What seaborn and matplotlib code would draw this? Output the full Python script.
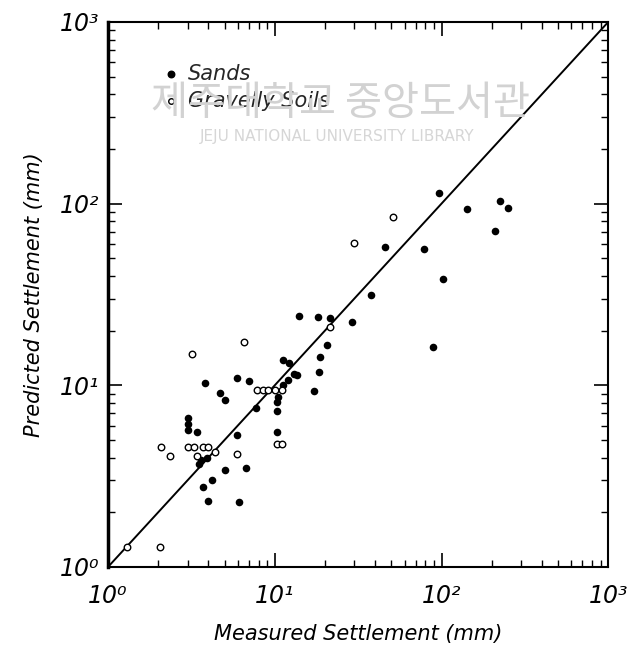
import pandas as pd
import matplotlib.pyplot as plt
import seaborn as sns
from matplotlib.ticker import LogLocator, NullFormatter, FixedLocator

# Sands (filled dots), measured vs predicted settlement in mm
sands_measured = [14.0, 18.2, 21.5, 29.1, 20.6, 18.7, 18.4, 17.2, 11.2, 12.2,
                  13.6, 13.1, 12.0, 11.2, 10.5, 10.3, 10.3, 10.3, 7.7, 5.9,
                  3.8, 5.9, 7.0, 4.7, 5.0, 3.0, 3.0, 3.0, 3.4, 3.6,
                  3.9, 3.5, 5.0, 6.7, 4.2, 3.7, 4.0, 6.1, 97, 142,
                  225, 251, 210, 46, 78, 102, 38, 89]
sands_predicted = [24.1, 23.8, 23.5, 22.3, 16.7, 14.3, 11.8, 9.3, 13.8, 13.3,
                   11.4, 11.5, 10.7, 10.0, 8.6, 8.1, 7.2, 5.5, 7.5, 5.3,
                   10.3, 11.0, 10.6, 9.1, 8.3, 6.6, 6.1, 5.7, 5.5, 3.9,
                   4.0, 3.7, 3.4, 3.5, 3.0, 2.75, 2.3, 2.28, 114, 93,
                   103, 94, 71, 58, 56, 38.5, 31.4, 16.2]

# Gravelly soils (open symbols)
gravel_measured = [6.5, 3.2, 2.08, 2.35, 3.0, 3.3, 3.7, 4.0, 3.4, 4.4,
                   5.9, 7.8, 8.5, 9.1, 10.0, 11.1, 10.3, 11.1, 1.30, 2.05,
                   51, 30, 21.5]
gravel_predicted = [17.3, 14.9, 4.6, 4.1, 4.6, 4.6, 4.6, 4.6, 4.1, 4.3,
                    4.2, 9.4, 9.4, 9.4, 9.4, 9.4, 4.75, 4.75, 1.29, 1.29,
                    84, 61, 20.9]

decades = [1, 10, 100, 1000]
decade_labels = ["10⁰", "10¹", "10²", "10³"]

df = pd.concat([
    pd.DataFrame({"Measured": sands_measured, "Predicted": sands_predicted, "Soil": "Sands"}),
    pd.DataFrame({"Measured": gravel_measured, "Predicted": gravel_predicted, "Soil": "Gravelly Soils"}),
], ignore_index=True)

sns.set_theme(style="white")
plt.rcParams["font.family"] = ["DejaVu Sans"]

fig = plt.figure(figsize=(6.43, 6.45), dpi=100)
ax = fig.add_axes([0.168, 0.121, 0.778, 0.845])

sands = df[df["Soil"] == "Sands"]
gravel = df[df["Soil"] == "Gravelly Soils"]
sns.scatterplot(data=sands, x="Measured", y="Predicted", ax=ax, color="black",
                s=30, edgecolor="black", linewidth=0, marker="o", legend=False, zorder=3)
sns.scatterplot(data=gravel, x="Measured", y="Predicted", ax=ax, facecolor="white",
                s=22, edgecolor="black", linewidth=1.0, marker="o", legend=False, zorder=3)

# 1:1 line
ax.plot([1, 1000], [1, 1000], color="black", lw=1.4, zorder=2)

ax.set_xscale("log")
ax.set_yscale("log")
ax.set_xlim(1, 1000)
ax.set_ylim(1, 1000)

ax.xaxis.set_major_locator(FixedLocator(decades))
ax.yaxis.set_major_locator(FixedLocator(decades))
ax.set_xticklabels(decade_labels, fontsize=17, fontstyle="italic")
ax.set_yticklabels(decade_labels, fontsize=17, fontstyle="italic")
ax.xaxis.set_minor_locator(LogLocator(base=10, subs=range(2, 10)))
ax.yaxis.set_minor_locator(LogLocator(base=10, subs=range(2, 10)))
ax.xaxis.set_minor_formatter(NullFormatter())
ax.yaxis.set_minor_formatter(NullFormatter())
ax.tick_params(which="both", direction="in", top=True, right=True, bottom=True, left=True,
               color="black", labelcolor="black")
ax.tick_params(which="major", length=10, width=1.2, pad=6)
ax.tick_params(which="minor", length=5, width=1.0)
ax.tick_params(axis="x", which="major", pad=12)

for side, sp in ax.spines.items():
    sp.set_color("black")
    sp.set_linewidth(1.5)
ax.spines["left"].set_linewidth(2.5)
ax.grid(False)

ax.set_xlabel("Measured Settlement (mm)", fontsize=15, fontstyle="italic", labelpad=12,
              color="black")
ax.set_ylabel("Predicted Settlement (mm)", fontsize=15, fontstyle="italic", labelpad=12,
              color="black")

# legend as in the original, plain text inside the axes
ax.scatter([0.125], [0.905], transform=ax.transAxes, s=22, color="black", zorder=4)
ax.text(0.16, 0.905, "Sands", transform=ax.transAxes, fontsize=15,
        fontstyle="italic", va="center", zorder=4)
ax.scatter([0.125], [0.855], transform=ax.transAxes, s=16, facecolor="white",
           edgecolor="black", linewidth=1.0, zorder=4)
ax.text(0.16, 0.855, "Gravelly Soils", transform=ax.transAxes, fontsize=15,
        fontstyle="italic", va="center", zorder=4)

# library watermark (lies behind the plot, as in the scanned page)
fig.text(0.53, 0.84, "제주대학교 중앙도서관", fontsize=29, color="#d2d2d2",
         ha="center", va="center", family=["Noto Sans CJK KR", "DejaVu Sans"], zorder=0)
fig.text(0.525, 0.788, "JEJU NATIONAL UNIVERSITY LIBRARY", fontsize=11, color="#d6d6d6",
         ha="center", va="center", zorder=0)

plt.savefig("out.png", dpi=100)
plt.close(fig)
